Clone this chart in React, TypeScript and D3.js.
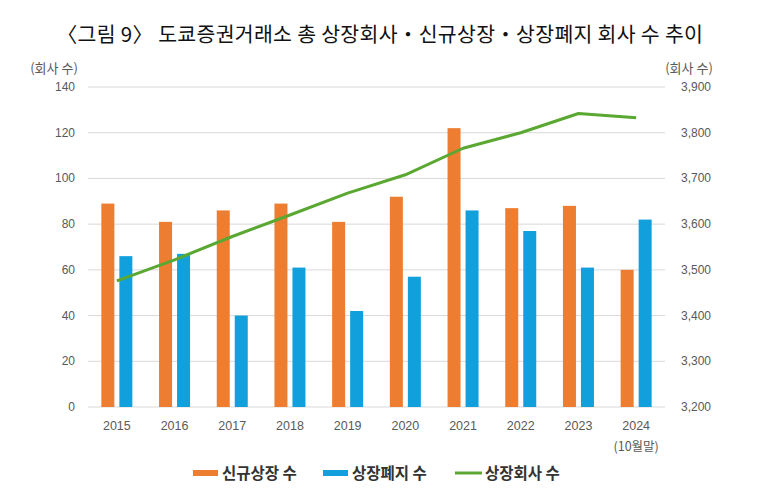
import React from "react";
import * as d3 from "d3";

const years = ["2015", "2016", "2017", "2018", "2019", "2020", "2021", "2022", "2023", "2024"];
const newListings = [89, 81, 86, 89, 81, 92, 122, 87, 88, 60];
const delistings = [66, 67, 40, 61, 42, 57, 86, 77, 61, 82];
const listedCompanies = [3476, 3522, 3573, 3620, 3668, 3708, 3766, 3800, 3842, 3833];
const leftTicks = [0, 20, 40, 60, 80, 100, 120, 140];
const rightTicks = [3200, 3300, 3400, 3500, 3600, 3700, 3800, 3900];

const W = 762;
const H = 501;
const KR = "'Noto Sans CJK KR', 'Noto Sans', sans-serif";
const LAT = "'Liberation Sans', Arial, sans-serif";

export default function App() {
  const left = 88;
  const right = 665;
  const top = 87;
  const bottom = 407;
  const x = d3.scaleBand<string>().domain(years).range([left, right]);
  const yL = d3.scaleLinear().domain([0, 140]).range([bottom, top]);
  const yR = d3.scaleLinear().domain([3200, 3900]).range([bottom, top]);
  const barW = 13;
  const gap = 5;
  const line = d3
    .line<number>()
    .x((_, i) => (x(years[i]) as number) + x.bandwidth() / 2)
    .y((d) => yR(d));
  const fmt = d3.format(",");

  return (
    <svg width={W} height={H} style={{ position: "absolute", left: 0, top: 0, background: "#fff" }}>
      <text x={380} y={42} textAnchor="middle" fontFamily={KR} fontSize={20.5} fill="#111" letterSpacing={0.3}>
        〈그림 9〉 도쿄증권거래소 총 상장회사・신규상장・상장폐지 회사 수 추이
      </text>
      <text x={54} y={73} textAnchor="middle" fontFamily={KR} fontSize={13} fill="#595959">(회사 수)</text>
      <text x={689} y={73} textAnchor="middle" fontFamily={KR} fontSize={13} fill="#595959">(회사 수)</text>
      {leftTicks.map((t) => (
        <g key={"l" + t}>
          <line x1={left} x2={right} y1={yL(t)} y2={yL(t)} stroke="#d9d9d9" strokeWidth={1} />
          <text x={75} y={yL(t) + 4} textAnchor="end" fontFamily={LAT} fontSize={12} fill="#595959">{t}</text>
        </g>
      ))}
      {rightTicks.map((t) => (
        <text key={"r" + t} x={681} y={yR(t) + 4} textAnchor="start" fontFamily={LAT} fontSize={12} fill="#595959">
          {fmt(t)}
        </text>
      ))}
      {years.map((yr, i) => {
        const c = (x(yr) as number) + x.bandwidth() / 2;
        return (
          <g key={yr}>
            <rect x={c - gap / 2 - barW} y={yL(newListings[i])} width={barW} height={bottom - yL(newListings[i])} fill="#ed7d31" />
            <rect x={c + gap / 2} y={yL(delistings[i])} width={barW} height={bottom - yL(delistings[i])} fill="#12a0dc" />
            <text x={c} y={430} textAnchor="middle" fontFamily={LAT} fontSize={12.5} fill="#595959">{yr}</text>
          </g>
        );
      })}
      <text x={(x("2024") as number) + x.bandwidth() / 2} y={451} textAnchor="middle" fontFamily={KR} fontSize={12.5} fill="#595959">(10월말)</text>
      <path d={line(listedCompanies) || ""} fill="none" stroke="#5aa832" strokeWidth={3} strokeLinejoin="round" />
      <g fontFamily={KR} fontSize={15.5} fontWeight="bold" fill="#333">
        <rect x={193} y={470} width={25} height={6} fill="#ed7d31" />
        <text x={222} y={479}>신규상장 수</text>
        <rect x={323} y={470} width={25} height={6} fill="#12a0dc" />
        <text x={352} y={479}>상장폐지 수</text>
        <line x1={455} x2={482} y1={473} y2={473} stroke="#5aa832" strokeWidth={3} />
        <text x={485} y={479}>상장회사 수</text>
      </g>
    </svg>
  );
}
